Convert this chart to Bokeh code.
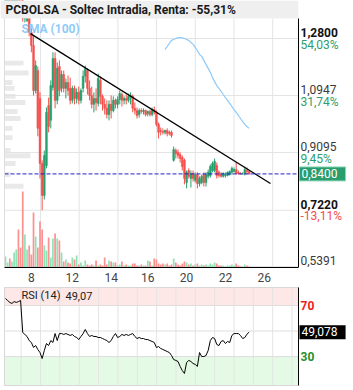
import numpy as np
from bokeh.plotting import figure
from bokeh.layouts import column
from bokeh.models import Range1d, FixedTicker, Label, ColumnDataSource
from bokeh.core.properties import value
from bokeh.embed import file_html
from bokeh.resources import INLINE

TITLE = "PCBOLSA - Soltec Intradia, Renta: -55,31%"
day_labels = ["8", "12", "14", "16", "20", "22", "26"]
day_label_bar = [12, 31, 49, 66, 84, 102, 120]

price_levels = [1.2800, 1.0947, 0.9095, 0.7220, 0.5391]
price_texts = ["1,2800", "1,0947", "0,9095", "0,7220", "0,5391"]
pct_texts = ["54,03%", "31,74%", "9,45%", "-13,11%", "-35,13%"]
price_bold = [True, False, False, True, False]
last_price = 0.84
last_price_text = "0,8400"
rsi_last = 49.078
rsi_last_text = "49,078"
rsi_title = "RSI (14)"
rsi_title_value = "49,07"
rsi_levels = [30, 50, 70]

open_ = [1.430, 1.445, 1.462, 1.455, 1.465, 1.482, 1.488, 1.460, 1.450, 1.345,
         1.338, 1.350, 1.300, 1.257, 1.111, 1.176, 1.085, 0.874, 0.770, 0.867,
         1.062, 1.014, 1.121, 1.215, 1.079, 1.189, 1.118, 1.163, 1.118, 1.137,
         1.118, 1.079, 1.118, 1.085, 1.105, 1.079, 1.118, 1.157, 1.176, 1.118,
         1.095, 1.066, 1.085, 1.069, 1.144, 1.092, 1.066, 1.053, 1.033, 1.066,
         1.046, 1.079, 1.066, 1.082, 1.098, 1.079, 1.085, 1.079, 1.088, 1.092,
         1.053, 1.046, 1.033, 1.046, 1.043, 1.046, 1.036, 1.043, 1.033, 1.049,
         1.040, 1.001, 0.981, 0.978, 0.975, 0.981, 0.975, 0.975, 0.884, 0.916,
         0.910, 0.903, 0.893, 0.884, 0.812, 0.851, 0.825, 0.841, 0.819, 0.838,
         0.809, 0.812, 0.838, 0.812, 0.832, 0.835, 0.851, 0.851, 0.867, 0.845,
         0.838, 0.832, 0.835, 0.835, 0.838, 0.845, 0.848, 0.854, 0.845, 0.841,
         0.840, 0.840, 0.851, 0.848]
high = [1.452, 1.470, 1.475, 1.468, 1.490, 1.495, 1.492, 1.470, 1.455, 1.360,
        1.360, 1.352, 1.313, 1.290, 1.209, 1.189, 1.105, 0.884, 0.916, 1.056,
        1.088, 1.144, 1.235, 1.235, 1.202, 1.209, 1.176, 1.176, 1.150, 1.160,
        1.153, 1.127, 1.127, 1.118, 1.124, 1.118, 1.176, 1.192, 1.183, 1.144,
        1.124, 1.105, 1.118, 1.166, 1.157, 1.098, 1.085, 1.079, 1.079, 1.095,
        1.092, 1.085, 1.092, 1.111, 1.105, 1.092, 1.098, 1.101, 1.105, 1.098,
        1.072, 1.056, 1.053, 1.053, 1.053, 1.049, 1.046, 1.049, 1.056, 1.059,
        1.046, 1.007, 0.991, 0.988, 0.984, 0.988, 0.981, 0.981, 0.929, 0.923,
        0.919, 0.910, 0.900, 0.890, 0.851, 0.858, 0.851, 0.851, 0.845, 0.845,
        0.832, 0.838, 0.845, 0.845, 0.854, 0.871, 0.880, 0.890, 0.877, 0.851,
        0.845, 0.845, 0.845, 0.848, 0.851, 0.864, 0.861, 0.877, 0.851, 0.845,
        0.845, 0.864, 0.861, 0.851]
low = [1.425, 1.440, 1.450, 1.445, 1.460, 1.470, 1.455, 1.440, 1.335, 1.332,
       1.334, 1.287, 1.235, 1.095, 1.101, 0.962, 0.825, 0.722, 0.757, 0.858,
       0.975, 0.988, 1.111, 1.053, 1.066, 1.092, 1.105, 1.105, 1.085, 1.095,
       1.066, 1.069, 1.066, 1.069, 1.066, 1.069, 1.105, 1.137, 1.098, 1.079,
       1.053, 1.040, 1.046, 1.059, 1.066, 1.046, 1.033, 1.020, 1.014, 1.020,
       1.040, 1.053, 1.053, 1.066, 1.059, 1.066, 1.066, 1.072, 1.066, 1.040,
       1.033, 1.020, 1.023, 1.036, 1.033, 1.027, 1.027, 1.027, 1.027, 1.033,
       0.994, 0.955, 0.965, 0.968, 0.968, 0.962, 0.965, 0.958, 0.880, 0.890,
       0.890, 0.877, 0.851, 0.806, 0.793, 0.825, 0.796, 0.815, 0.812, 0.793,
       0.799, 0.806, 0.799, 0.799, 0.825, 0.828, 0.845, 0.845, 0.825, 0.828,
       0.828, 0.828, 0.828, 0.832, 0.835, 0.838, 0.845, 0.838, 0.838, 0.838,
       0.838, 0.835, 0.838, 0.838]
close = [1.445, 1.462, 1.455, 1.465, 1.482, 1.488, 1.460, 1.450, 1.345, 1.355,
         1.350, 1.300, 1.257, 1.111, 1.192, 0.988, 0.874, 0.770, 0.900, 1.040,
         0.994, 1.127, 1.215, 1.079, 1.183, 1.111, 1.163, 1.118, 1.137, 1.111,
         1.079, 1.118, 1.085, 1.105, 1.079, 1.111, 1.157, 1.183, 1.118, 1.095,
         1.066, 1.085, 1.072, 1.150, 1.092, 1.066, 1.053, 1.033, 1.066, 1.046,
         1.079, 1.066, 1.082, 1.101, 1.079, 1.085, 1.079, 1.092, 1.095, 1.053,
         1.046, 1.030, 1.046, 1.043, 1.046, 1.033, 1.043, 1.033, 1.049, 1.040,
         1.001, 0.975, 0.978, 0.975, 0.981, 0.971, 0.971, 0.965, 0.919, 0.906,
         0.900, 0.890, 0.864, 0.825, 0.845, 0.832, 0.841, 0.825, 0.838, 0.809,
         0.825, 0.832, 0.812, 0.838, 0.845, 0.864, 0.874, 0.880, 0.835, 0.835,
         0.832, 0.841, 0.838, 0.845, 0.848, 0.858, 0.854, 0.841, 0.841, 0.840,
         0.840, 0.854, 0.848, 0.840]
volume = [110, 50, 90, 60, 150, 180, 380, 200, 760, 330,
          180, 220, 130, 550, 310, 200, 460, 380, 220, 170,
          300, 100, 290, 340, 290, 270, 150, 60, 80, 50,
          40, 100, 80, 120, 30, 50, 20, 70, 30, 20,
          30, 20, 70, 20, 30, 20, 100, 30, 70, 60,
          50, 50, 20, 30, 60, 20, 30, 20, 20, 40,
          40, 20, 20, 30, 20, 20, 70, 60, 20, 90,
          80, 40, 30, 40, 30, 40, 20, 30, 90, 50,
          30, 20, 40, 60, 50, 30, 40, 20, 30, 40,
          20, 30, 20, 30, 20, 40, 30, 50, 40, 20,
          20, 20, 10, 20, 20, 30, 20, 40, 20, 10,
          10, 30, 20, 10]
sma_start = 74
sma100 = [1.244, 1.254, 1.264, 1.274, 1.277, 1.280, 1.283, 1.283, 1.282, 1.280,
          1.277, 1.274, 1.267, 1.261, 1.251, 1.241, 1.228, 1.222, 1.209, 1.196,
          1.183, 1.170, 1.153, 1.140, 1.127, 1.118, 1.108, 1.098, 1.088, 1.079,
          1.069, 1.059, 1.049, 1.040, 1.030, 1.020, 1.010, 1.001, 0.994, 0.988]
rsi14 = [75.5, 73.9, 72.4, 71.6, 73.1, 72.4, 73.1, 73.9, 48.8, 47.3,
         45.7, 42.5, 41.0, 37.1, 38.6, 35.5, 33.1, 28.4, 34.7, 40.2,
         38.6, 42.5, 41.0, 48.0, 42.5, 48.0, 48.0, 47.3, 48.0, 47.3,
         46.5, 47.3, 45.7, 44.9, 43.3, 45.7, 48.0, 51.2, 48.0, 45.7,
         46.5, 45.7, 45.7, 44.9, 44.9, 44.1, 43.3, 42.5, 41.0, 42.5,
         45.7, 48.0, 44.9, 45.7, 47.3, 46.5, 47.3, 46.5, 47.3, 48.0,
         45.7, 44.1, 44.9, 44.1, 44.1, 43.3, 43.3, 42.5, 41.8, 41.0,
         37.1, 37.8, 36.3, 35.5, 34.7, 33.9, 33.1, 30.8, 27.6, 26.9,
         26.1, 22.2, 19.0, 16.7, 25.3, 26.9, 26.1, 24.5, 23.8, 22.2,
         33.1, 30.0, 30.0, 30.8, 34.7, 42.5, 44.9, 44.1, 39.4, 38.6,
         41.8, 42.5, 40.2, 41.8, 41.0, 46.5, 48.0, 48.0, 48.0, 46.5,
         44.1, 44.9, 47.5, 49.078]
trend_x = [11.6, 122.9]
trend_y = [1.296, 0.809]
profile_price = [1.200, 1.168, 1.137, 1.118, 1.092, 1.072, 1.043, 1.020, 0.988, 0.958, 0.916, 0.899, 0.874, 0.838, 0.800]
profile_vol = [190, 240, 80, 100, 110, 210, 130, 160, 80, 80, 60, 260, 110, 60, 190]

GREEN = "#27a06f"
RED = "#f5514d"
VGREEN = "#8fe3b7"
VRED = "#ff9090"
GRID = "#e4e4e4"
FONT = "Roboto"

# ---- pixel helpers (layout only) ----
BAR_PX = 2.156          # pixels per bar
def xd(px):             # canvas x pixel -> bar index
    return (px - 5) / BAR_PX
PPU = 307.7             # pixels per price unit
def yd(py):             # canvas y pixel -> price (main panel)
    return 0.5391 + (266 - py) / PPU
RPU = 1.275             # pixels per RSI unit
def ry(py):             # local y pixel -> RSI value (rsi panel)
    return 70 - (py - 19) / RPU

W = 353
L, R = xd(4), xd(298)

n = len(close)
idx = np.arange(n)
o = np.array(open_); h = np.array(high); l = np.array(low); c = np.array(close)
inc = c >= o
col = [GREEN if k else RED for k in inc]
vcol = [VGREEN if k else VRED for k in inc]
src = ColumnDataSource(dict(x=idx, h=h, l=l, top=np.maximum(o, c), bot=np.minimum(o, c),
                            col=col, vol=volume, vcol=vcol))

p = figure(width=W, height=286, frame_width=W, frame_height=267,
           x_range=Range1d(xd(0), xd(W)), y_range=Range1d(yd(267), yd(0)),
           y_axis_location=None, output_backend="svg", toolbar_location=None,
           min_border_left=0, min_border_right=0, min_border_top=0, min_border_bottom=19)
p.outline_line_color = None
p.grid.visible = False
p.extra_y_ranges = {"vol": Range1d(0, 2670)}

p.xaxis.ticker = FixedTicker(ticks=day_label_bar)
p.xaxis.major_label_overrides = {t: s for t, s in zip(day_label_bar, day_labels)}
p.xaxis.bounds = (L, R)
p.xaxis.major_tick_line_color = None
p.xaxis.minor_tick_line_color = None
p.xaxis.major_tick_out = 0
p.xaxis.major_tick_in = 0
p.xaxis.minor_tick_out = 0
p.xaxis.minor_tick_in = 0
p.xaxis.axis_line_color = "black"
p.xaxis.major_label_text_font = FONT
p.xaxis.major_label_text_font_size = "12px"
p.xaxis.major_label_text_color = "#444444"
p.xaxis.major_label_standoff = 5

# grid lines (limited to the plot box)
gx = [16.23 + 17.95 * k for k in range(7)]
p.segment(x0=gx, x1=gx, y0=yd(267), y1=yd(18), line_color=GRID, line_width=1)
p.segment(x0=L, x1=R, y0=price_levels, y1=price_levels, line_color=GRID, line_width=1)

# volume profile
pscale = (26 / BAR_PX) / max(profile_vol)
p.hbar(y=profile_price, left=L, right=[L + v * pscale for v in profile_vol], height=0.016,
       fill_color="#e2e2e2", fill_alpha=0.75, line_color=None)

# volume
p.vbar(x="x", top="vol", bottom=0, width=0.8, fill_color="vcol", line_color=None,
       y_range_name="vol", source=src)

# candles
p.segment(x0="x", y0="l", x1="x", y1="h", line_color="col", line_width=1, source=src)
p.vbar(x="x", top="top", bottom="bot", width=0.85, fill_color="col", line_color="col",
       line_width=0.5, source=src)

p.line(x=idx[sma_start:sma_start + len(sma100)], y=sma100, line_color="#90caf9", line_width=1.2)
p.line(x=trend_x, y=trend_y, line_color="black", line_width=1.3)
p.segment(x0=L, x1=R, y0=last_price, y1=last_price, line_color="#2020cc",
          line_dash="4 2", line_width=1)

# title band (covers anything above the plot box)
p.quad(left=xd(0), right=R, bottom=yd(18), top=yd(0), fill_color="#efefef", line_color=None)
p.quad(left=R, right=xd(W), bottom=yd(18), top=yd(0), fill_color="white", line_color=None)
p.text(x=[xd(5)], y=[yd(9)], text=[TITLE], text_font=value(FONT), text_font_size=value("12px"),
       text_font_style="bold", text_color="#1a1a1a", text_baseline="middle")

# plot box edges
p.segment(x0=L, x1=L, y0=yd(267), y1=yd(18), line_color="#dddddd", line_width=1)
p.segment(x0=R, x1=R, y0=yd(267), y1=yd(18), line_color="black", line_width=1)

p.text(x=[xd(21)], y=[yd(28)], text=["SMA (100)"], text_font=value(FONT),
       text_font_size=value("12px"), text_font_style="bold", text_color="#90caf9",
       text_baseline="middle")

# price scale labels
off = 6 / PPU
for bflag in (True, False):
    sel = [i for i, b in enumerate(price_bold) if b == bflag]
    p.text(x=[xd(300)] * len(sel), y=[price_levels[i] + off for i in sel],
           text=[price_texts[i] for i in sel], text_font=value(FONT),
           text_font_size=value("12px"), text_font_style="bold" if bflag else "normal",
           text_color="#111111" if bflag else "#3a3a3a", text_baseline="middle")
p.text(x=[xd(300)] * len(price_levels), y=[v - off for v in price_levels], text=pct_texts,
       text_font=value(FONT), text_font_size=value("12px"),
       text_color=["#f44b4b" if t.startswith("-") else "#2e9e6e" for t in pct_texts],
       text_baseline="middle")
p.add_layout(Label(x=xd(299), y=last_price, text=last_price_text, text_font=FONT,
                   text_font_size="12px", text_color="white", text_baseline="middle",
                   background_fill_color="#2a9d6f", border_line_color="#8fd6b6",
                   padding=(2, 8, 2, 3)))

# ---------------- RSI ----------------
r = figure(width=W, height=104, frame_width=W, frame_height=104,
           x_range=p.x_range, y_range=Range1d(ry(104), ry(0)),
           y_axis_location=None, x_axis_location=None,
           output_backend="svg", toolbar_location=None,
           min_border_left=0, min_border_right=0, min_border_top=0, min_border_bottom=0)
r.outline_line_color = None
r.grid.visible = False
TOP, BOT = ry(1), ry(99)
r.quad(left=L, right=R, bottom=70, top=TOP, fill_color="#fde7e7", line_color=None)
r.quad(left=L, right=R, bottom=BOT, top=30, fill_color="#e5fae5", line_color=None)
rgx = [7.26 + 8.975 * k for k in range(15)]
r.segment(x0=rgx, x1=rgx, y0=BOT, y1=TOP, line_color=GRID, line_width=1)
r.segment(x0=L, x1=R, y0=rsi_levels, y1=rsi_levels, line_color="#dedede", line_width=1)
r.line(x=idx, y=rsi14, line_color="black", line_width=1)
# panel box
r.segment(x0=[L, L, L], x1=[R, R, L], y0=[TOP, BOT, BOT], y1=[TOP, BOT, TOP],
          line_color="#d8d8d8", line_width=1)
r.segment(x0=R, x1=R, y0=BOT, y1=TOP, line_color="black", line_width=1)

r.text(x=[xd(21), xd(65)], y=[ry(9), ry(9)], text=[rsi_title, rsi_title_value],
       text_font=value(FONT), text_font_size=value("11px"), text_color="#222222",
       text_baseline="middle")
r.text(x=[xd(300), xd(300)], y=[70, 30], text=["70", "30"], text_font=value(FONT),
       text_font_size=value("12px"), text_font_style="bold",
       text_color=["#f01c1c", "#2a8f2a"], text_baseline="middle")
r.add_layout(Label(x=xd(299), y=rsi_last, text=rsi_last_text, text_font=FONT,
                   text_font_size="12px", text_color="white", text_baseline="middle",
                   background_fill_color="black", padding=(2, 8, 2, 3)))

layout = column(p, r, spacing=0)
open("out.html", "w").write(file_html(layout, INLINE))
